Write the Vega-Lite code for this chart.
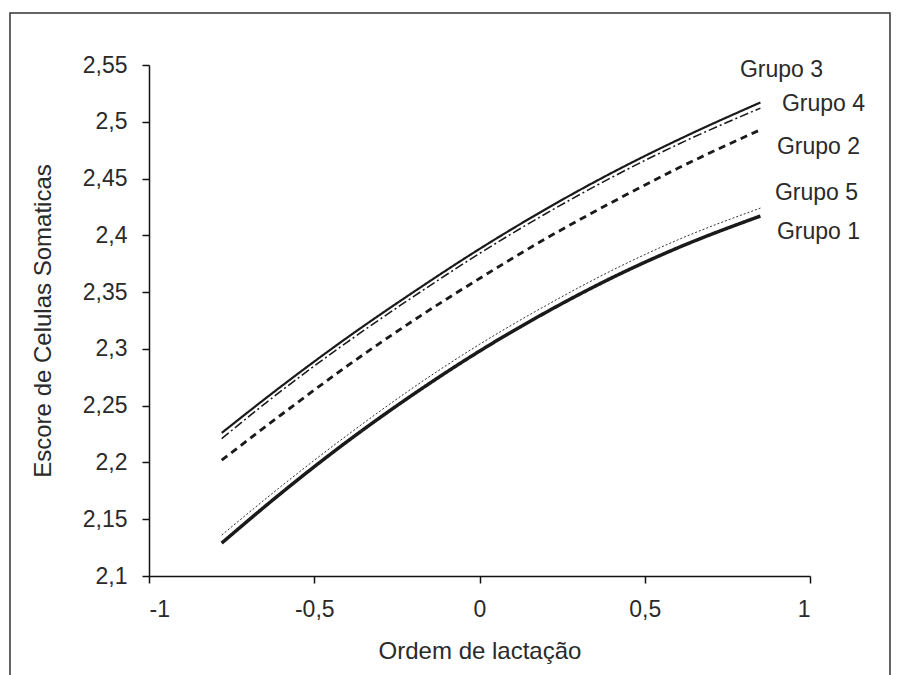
{
  "$schema": "https://vega.github.io/schema/vega-lite/v6.json",
  "width": 661,
  "height": 511,
  "autosize": "none",
  "padding": {"left": 149, "top": 65, "right": 90, "bottom": 99},
  "background": "white",
  "config": {
    "view": {"stroke": null},
    "font": "Liberation Sans",
    "axis": {"grid": false, "domainColor": "#111", "tickColor": "#111", "domainWidth": 1.5, "tickWidth": 1.5, "tickSize": 7, "labelFont": "Liberation Sans", "titleFont": "Liberation Sans", "labelFontSize": 23, "titleFontSize": 24, "labelColor": "#2a2a2a", "titleColor": "#2a2a2a", "titleFontWeight": "normal"}
  },
  "datasets": {
    "curves": [
      {"x": -0.78, "y": 2.129, "grupo": "Grupo 1"},
      {"x": -0.6, "y": 2.173, "grupo": "Grupo 1"},
      {"x": -0.4, "y": 2.2185, "grupo": "Grupo 1"},
      {"x": -0.2, "y": 2.26, "grupo": "Grupo 1"},
      {"x": 0, "y": 2.298, "grupo": "Grupo 1"},
      {"x": 0.2, "y": 2.332, "grupo": "Grupo 1"},
      {"x": 0.4, "y": 2.3625, "grupo": "Grupo 1"},
      {"x": 0.6, "y": 2.389, "grupo": "Grupo 1"},
      {"x": 0.85, "y": 2.417, "grupo": "Grupo 1"},
      {"x": -0.78, "y": 2.136, "grupo": "Grupo 5"},
      {"x": -0.6, "y": 2.179, "grupo": "Grupo 5"},
      {"x": -0.4, "y": 2.224, "grupo": "Grupo 5"},
      {"x": -0.2, "y": 2.266, "grupo": "Grupo 5"},
      {"x": 0, "y": 2.304, "grupo": "Grupo 5"},
      {"x": 0.2, "y": 2.338, "grupo": "Grupo 5"},
      {"x": 0.4, "y": 2.369, "grupo": "Grupo 5"},
      {"x": 0.6, "y": 2.396, "grupo": "Grupo 5"},
      {"x": 0.85, "y": 2.424, "grupo": "Grupo 5"},
      {"x": -0.78, "y": 2.226, "grupo": "Grupo 3"},
      {"x": -0.6, "y": 2.267, "grupo": "Grupo 3"},
      {"x": -0.4, "y": 2.31, "grupo": "Grupo 3"},
      {"x": -0.2, "y": 2.35, "grupo": "Grupo 3"},
      {"x": 0, "y": 2.388, "grupo": "Grupo 3"},
      {"x": 0.2, "y": 2.423, "grupo": "Grupo 3"},
      {"x": 0.4, "y": 2.455, "grupo": "Grupo 3"},
      {"x": 0.6, "y": 2.484, "grupo": "Grupo 3"},
      {"x": 0.85, "y": 2.517, "grupo": "Grupo 3"},
      {"x": -0.78, "y": 2.221, "grupo": "Grupo 4"},
      {"x": -0.6, "y": 2.263, "grupo": "Grupo 4"},
      {"x": -0.4, "y": 2.306, "grupo": "Grupo 4"},
      {"x": -0.2, "y": 2.346, "grupo": "Grupo 4"},
      {"x": 0, "y": 2.384, "grupo": "Grupo 4"},
      {"x": 0.2, "y": 2.419, "grupo": "Grupo 4"},
      {"x": 0.4, "y": 2.451, "grupo": "Grupo 4"},
      {"x": 0.6, "y": 2.48, "grupo": "Grupo 4"},
      {"x": 0.85, "y": 2.512, "grupo": "Grupo 4"},
      {"x": -0.78, "y": 2.202, "grupo": "Grupo 2"},
      {"x": -0.6, "y": 2.242, "grupo": "Grupo 2"},
      {"x": -0.4, "y": 2.285, "grupo": "Grupo 2"},
      {"x": -0.2, "y": 2.325, "grupo": "Grupo 2"},
      {"x": 0, "y": 2.362, "grupo": "Grupo 2"},
      {"x": 0.2, "y": 2.397, "grupo": "Grupo 2"},
      {"x": 0.4, "y": 2.429, "grupo": "Grupo 2"},
      {"x": 0.6, "y": 2.459, "grupo": "Grupo 2"},
      {"x": 0.85, "y": 2.493, "grupo": "Grupo 2"}
    ],
    "labels": [
      {"grupo": "Grupo 3", "x": 0.788, "y": 2.546},
      {"grupo": "Grupo 4", "x": 0.915, "y": 2.516},
      {"grupo": "Grupo 2", "x": 0.9, "y": 2.478},
      {"grupo": "Grupo 5", "x": 0.894, "y": 2.437},
      {"grupo": "Grupo 1", "x": 0.9, "y": 2.403}
    ]
  },
  "layer": [
    {
      "data": {"values": [{"frame": 1}]},
      "mark": {"type": "rect", "fillOpacity": 0, "stroke": "#333", "strokeWidth": 1.5, "clip": false},
      "encoding": {
        "x": {"datum": -1.4206, "type": "quantitative", "scale": {"domain": [-1, 1]}},
        "x2": {"datum": 1.242},
        "y": {"datum": 2.5958, "type": "quantitative", "scale": {"domain": [2.1, 2.55]}},
        "y2": {"datum": 2.0075}
      }
    },
    {
      "data": {"name": "curves"},
      "mark": {"type": "line", "interpolate": "monotone", "color": "#1a1a1a"},
      "encoding": {
        "x": {"field": "x", "type": "quantitative", "scale": {"domain": [-1, 1]},
              "axis": {"values": [-1, -0.5, 0, 0.5, 1], "title": "Ordem de lactação", "labelPadding": 15, "titlePadding": 18,
                       "labelExpr": "replace(replace(format(datum.value, '.1~f'), '.', ','), '−', '-')"}},
        "y": {"field": "y", "type": "quantitative", "scale": {"domain": [2.1, 2.55]},
              "axis": {"values": [2.1, 2.15, 2.2, 2.25, 2.3, 2.35, 2.4, 2.45, 2.5, 2.55], "title": "Escore de Celulas Somaticas", "labelPadding": 15, "titlePadding": 27,
                       "labelExpr": "replace(format(datum.value, '.2~f'), '.', ',')"}},
        "detail": {"field": "grupo"},
        "strokeWidth": {"field": "grupo", "type": "nominal", "legend": null,
                        "scale": {"domain": ["Grupo 1", "Grupo 2", "Grupo 3", "Grupo 4", "Grupo 5"], "range": [3.5, 0.9, 0.9, 0.9, 0.9]}},
        "strokeDash": {"field": "grupo", "type": "nominal", "legend": null,
                       "scale": {"domain": ["Grupo 1", "Grupo 2", "Grupo 3", "Grupo 4", "Grupo 5"], "range": [[1, 0], [7, 5], [1, 0], [9, 3, 2, 3], [2, 2]]}}
      }
    },
    {
      "data": {"name": "labels"},
      "mark": {"type": "text", "align": "left", "baseline": "middle", "fontSize": 23, "font": "Liberation Sans", "color": "#2a2a2a"},
      "encoding": {
        "x": {"field": "x", "type": "quantitative"},
        "y": {"field": "y", "type": "quantitative"},
        "text": {"field": "grupo"}
      }
    }
  ]
}
